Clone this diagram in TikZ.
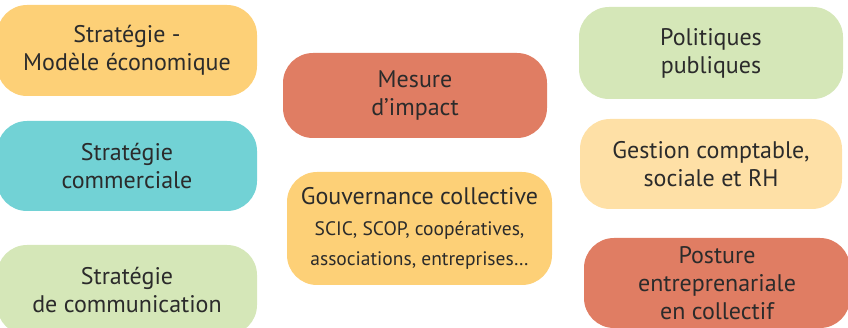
\documentclass[tikz,border=0pt]{standalone}
\usepackage{fontspec}
\setmainfont{PT Sans}
\definecolor{jaune}{HTML}{FDD077}
\definecolor{saumon}{HTML}{E07D63}
\definecolor{vert}{HTML}{D5E7B8}
\definecolor{turquoise}{HTML}{72D2D5}
\definecolor{peche}{HTML}{FEE0A6}
\definecolor{texte}{HTML}{2B2B2B}
\newcommand{\grand}{\fontsize{24}{28}\selectfont}
\newcommand{\petit}{\fontsize{19.5}{30.5}\selectfont}
\begin{document}
\begin{tikzpicture}[x=1pt, y=-1pt, font=\grand,
	pill/.style={rounded corners=30pt, align=center, text=texte, inner sep=0pt, minimum width=262pt, minimum height=90pt}]
	\useasboundingbox (0,0) rectangle (848,328);
	% colonne de gauche
	\node[pill, fill=jaune, minimum width=260pt, minimum height=91pt] (modele) at (127,50.5) {Stratégie -\\Modèle économique};
	\node[pill, fill=turquoise, minimum width=260pt] (commerciale) at (127,166) {Stratégie\\commerciale};
	\node[pill, fill=vert, minimum width=260pt] (communication) at (127,290) {Stratégie\\de communication};
	% colonne du milieu
	\node[pill, fill=saumon, minimum width=264pt, minimum height=85pt] (impact) at (415,95.5) {Mesure\\d’impact};
	\node[pill, fill=jaune, minimum width=265pt, minimum height=113pt, font=\petit] (gouvernance) at (419.5,228.5) {\grand Gouvernance collective\\SCIC, SCOP, coopératives,\\associations, entreprises…};
	% colonne de droite
	\node[pill, fill=vert, minimum width=264pt, minimum height=92pt] (politiques) at (711,53) {Politiques\\publiques};
	\node[pill, fill=peche] (gestion) at (711,164) {Gestion comptable,\\sociale et RH};
	\node[pill, fill=saumon, minimum width=266pt] (posture) at (717,283) {Posture\\entreprenariale\\en collectif};
\end{tikzpicture}
\end{document}
